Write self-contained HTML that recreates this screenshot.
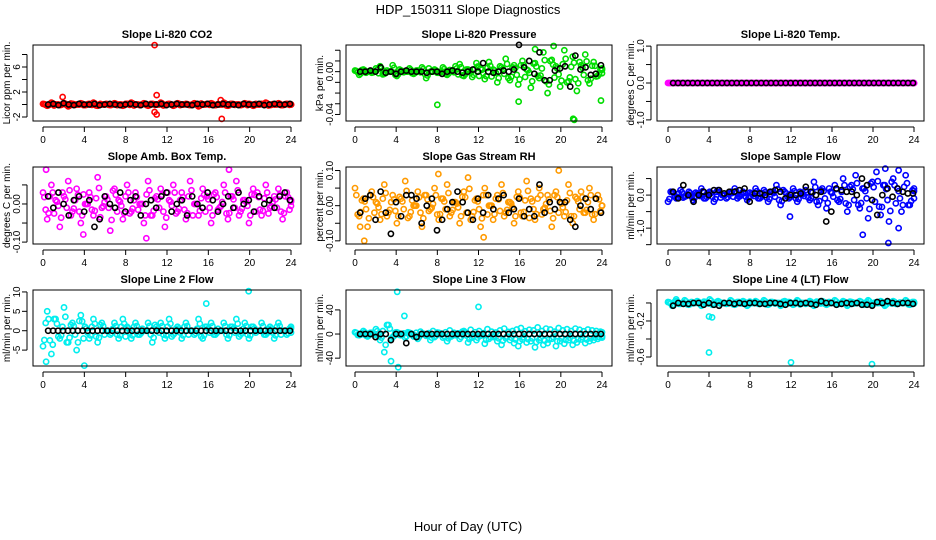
<!DOCTYPE html>
<html><head><meta charset="utf-8"><style>
html,body{margin:0;padding:0;background:#fff}
svg{display:block;font-family:"Liberation Sans",sans-serif}
</style></head><body>
<svg id="c" width="936" height="540" xmlns="http://www.w3.org/2000/svg">
<text x="468" y="14" text-anchor="middle" font-size="13">HDP_150311  Slope Diagnostics</text>
<text x="468" y="531" text-anchor="middle" font-size="13">Hour of Day (UTC)</text>
</svg>
<script>
const xTicks=[0,4,8,12,16,20,24];
const titles=["Slope Li-820 CO2","Slope Li-820 Pressure","Slope Li-820 Temp.","Slope Amb. Box Temp.","Slope Gas Stream RH","Slope Sample Flow","Slope Line 2 Flow","Slope Line 3 Flow","Slope Line 4 (LT) Flow"];
const yTitles=["Licor ppm per min.","kPa per min.","degrees C per min.","degrees C per min.","percent per min.","ml/min per min.","ml/min per min.","ml/min per min.","ml/min per min."];
const colors=["#ff0000","#00dd00","#ff00ff","#ff00ff","#ff9a00","#0000ff","#00eeee","#00eeee","#00eeee"];
const yDomains=[[-2.64,9.52],[-0.0461,0.0249],[-1.03,1.03],[-0.105,0.097],[-0.109,0.11],[-1.48,0.85],[-9.1,10.5],[-53,73],[-0.7,0.144]];
const yTickVals=[[-2,0,2,4,6,8],[-0.04,-0.03,-0.02,-0.01,0,0.01,0.02],[-1,-0.5,0,0.5,1],[-0.1,-0.05,0,0.05],[-0.1,-0.05,0,0.05,0.1],[-1.5,-1,-0.5,0,0.5],[-5,0,5,10],[-40,0,40],[-0.6,-0.4,-0.2,0]];
const yTickLabels=[["-2","","2","","6",""],["-0.04","","","","0.00","",""],["-1.0","","0.0","","1.0"],["-0.10","","0.00",""],["-0.10","","0.00","","0.10"],["","-1.0","","0.0",""],["-5","0","5","10"],["-40","0","40"],["-0.6","","-0.2",""]];
const colored=[
[0.1,-0.2,0.3,0,-0.1,0.2,-0.3,0.1,0,0.2,-0.1,0.1,0.3,-0.2,0,0.1,-0.1,0.2,0,-0.2,0.1,0.3,0,-0.1,0.2,-0.2,0.1,0,0.3,-0.1,0.1,-0.2,0.2,0,0.1,-0.1,0.2,-0.3,0,0.1,0.2,-0.1,0,0.3,-0.2,0.1,0,-0.1,0.2,0.1,-0.2,0,0.1,0.3,-0.1,0,0.2,-0.1,0.1,0],
[0.001,-0.003,0.002,0,-0.001,0.003,0.005,-0.002,0,0.006,-0.004,0.001,0,0.003,-0.002,0.001,0.004,-0.006,0,0.002,-0.001,0.004,-0.003,0.001,0.005,0.007,-0.004,0.002,-0.005,0.008,0.003,-0.007,0.009,0.002,-0.01,0.004,0.012,-0.008,0.006,-0.012,0.01,0.002,-0.015,0.008,-0.006,0.018,-0.02,0.011,0.005,-0.014,0.02,-0.009,0.014,-0.018,0.006,0.016,-0.011,0.009,-0.004,0.003],
[0,0,0,0,0,0,0,0,0,0,0,0,0,0,0,0,0,0,0,0,0,0,0,0,0,0,0,0,0,0,0,0,0,0,0,0,0,0,0,0,0,0,0,0,0,0,0,0,0,0,0,0,0,0,0,0,0,0,0,0],
[0.03,-0.04,0.05,0.01,-0.06,0.02,0.06,-0.02,0.04,-0.05,0,0.03,-0.03,0.07,-0.01,0.02,-0.07,0.04,0.01,-0.04,0.05,-0.02,0.03,0,-0.05,0.06,-0.03,0.02,0.04,-0.06,0.01,0.05,-0.02,0.03,-0.04,0.06,0,-0.03,0.04,0.02,-0.05,0.03,-0.01,0.05,-0.04,0.02,0.06,-0.02,0.01,-0.05,0.04,0.03,-0.03,0.05,-0.01,0.02,0.04,-0.04,0.03,0.01],
[0.05,-0.03,0.02,-0.06,0.04,0.01,-0.04,0.06,-0.02,0.03,-0.05,0.02,0.07,-0.03,0,0.04,-0.06,0.03,-0.01,0.05,-0.04,0.02,0.06,-0.02,0.01,-0.05,0.04,0.08,-0.03,0.02,-0.06,0.05,0,-0.04,0.03,0.06,-0.02,0.01,-0.05,0.04,-0.03,0.07,0.02,-0.04,0.05,-0.01,0.03,-0.06,0.04,0.01,-0.03,0.06,-0.05,0.02,0.04,-0.02,0.05,-0.04,0.03,0],
[-0.2,0.1,-0.1,0.15,-0.05,0.1,-0.15,0.05,0.2,-0.1,0.1,-0.2,0.15,0,-0.1,0.1,0.2,-0.05,0.1,-0.15,0.05,0.2,-0.1,0.15,-0.2,0.1,0.3,-0.3,0.1,-0.1,0.2,-0.2,0.05,0.15,-0.15,0.4,-0.3,0.2,-0.4,0.1,0.3,-0.2,0.5,-0.5,0.3,0.6,-0.4,0.2,-0.7,0.4,0.7,-0.6,0.3,-0.8,0.5,0.2,-0.5,0.6,-0.3,0.2],
[-4,5,-6,3,-2,6,-3,2,-5,4,1,-2,3,-3,2,0,-1,2,-2,3,1,-2,2,-1,0,2,-3,1,2,-2,3,-1,1,-2,2,0,-1,3,-2,1,2,-1,0,2,-2,1,3,-1,2,-2,1,0,2,-1,1,-2,2,0,-1,1],
[3,-2,5,-4,2,8,-10,-30,15,-5,3,-2,-6,2,-4,-8,1,-3,-10,-5,2,-6,-12,-4,-2,-8,5,-14,-6,-10,-3,-16,-8,-5,-12,-18,-7,-10,-15,-20,-9,-14,-12,-22,-10,-18,-15,-8,-20,-12,-16,-10,-18,-14,-9,-15,-12,-10,-8,-6],
[0.01,-0.03,0.02,-0.01,0.03,-0.02,0,0.02,-0.03,0.01,0.04,-0.02,0.02,0,-0.01,0.03,-0.02,0.01,0.02,-0.03,0,0.02,-0.01,0.03,-0.02,0.01,0,-0.03,0.02,0.01,-0.02,0.03,0,-0.01,0.02,-0.03,0.01,0.02,-0.02,0,0.03,-0.01,0.02,-0.03,0.01,0,0.02,-0.02,0.03,-0.01,0,0.02,-0.03,0.01,0.02,-0.01,0,0.03,-0.02,0.01]];
const black=[
[0,0.1,-0.1,0.2,0,-0.1,0.1,0,0,0.1,-0.1,0,0.1,0,-0.1,0,0.1,0,-0.1,0.1,0,0,0.1,-0.1,0,0.1,0,0,-0.1,0.1,0,0.1,-0.1,0,0.1,0,0,-0.1,0.1,0,0,0.1,-0.1,0,0.1,0,0,0.1],
[0,0,0.001,0,0.004,-0.001,0,-0.002,0,0.001,0,0,0,-0.001,0,0,-0.002,0,0.001,0,-0.001,0,0.002,0,0.008,0,-0.001,0,0.001,0,0.002,0.025,0.004,0.01,-0.002,0.018,-0.008,-0.008,0.001,0.003,0.005,-0.014,0.015,0.002,0.004,-0.003,-0.002,0.006],
[0,0,0,0,0,0,0,0,0,0,0,0,0,0,0,0,0,0,0,0,0,0,0,0,0,0,0,0,0,0,0,0,0,0,0,0,0,0,0,0,0,0,0,0,0,0,0,0,0,0],
[0.02,-0.01,0.03,0,-0.03,0.01,0.02,-0.02,0.01,-0.06,-0.04,0.02,0,-0.01,0.03,-0.02,0.01,0.02,-0.03,0,0.01,-0.01,0.02,0.03,-0.02,0,0.01,-0.03,0.02,0,-0.01,0.03,0.01,-0.02,0,0.02,-0.01,0.03,0,0.01,-0.02,0.02,0,0.01,-0.01,0.02,0.03,0.01],
[-0.02,0.02,0.03,-0.04,0.04,-0.02,-0.08,0.01,-0.03,0.03,0.03,0.02,-0.05,0,0.02,-0.07,-0.04,-0.01,0.01,0.04,0.01,-0.02,-0.04,0.02,-0.02,0.03,-0.01,0.02,0.03,-0.02,-0.01,0.02,-0.03,-0.01,-0.03,0.06,-0.02,0.01,-0.01,0.01,0.01,-0.04,-0.06,0,0.02,-0.01,0.02,-0.02],
[0.1,-0.1,0.3,0,-0.2,0,0.1,0,0.15,0.15,0.05,0.1,0.1,0.15,0.2,-0.2,0.05,0.05,0,0.1,0.15,0.1,-0.1,0,0,0.05,0.25,0.1,0,0.1,-0.8,-0.5,0.2,0.15,0.1,0.1,0,0.5,0.3,-0.15,-0.6,0,0.2,-0.05,0.2,0.1,0.05,0.05],
[0,0,0,0,0,0,0,0,0,0,0,0,0,0,0,0,0,0,0,0,0,0,0,0,0,0,0,0,0,0,0,0,0,0,0,0,0,0,0,0,0,0,0,0,0,0,0,0,0,0],
[0,0,0,-5,0,0,-10,0,0,-15,0,-5,0,0,0,0,0,0,0,0,0,0,0,0,0,0,0,0,0,0,0,0,0,0,0,0,0,0,0,0,0,0,0,0,0,0,0,0],
[-0.03,0,-0.01,-0.01,0,0,-0.02,0,-0.02,-0.03,0,0,-0.01,0,-0.01,0,0,-0.01,-0.01,0,0,-0.01,-0.02,0,0,-0.01,0,-0.01,-0.02,0.02,0,0,-0.02,-0.01,0,-0.01,0,-0.02,-0.02,-0.03,0.01,0,0.02,0,-0.01,0,0,-0.01]];
const outliers=[
[[10.8,9.5],[11,1.5],[1.9,1.2],[17.3,-2.3],[10.8,-1.2],[11,-1.6],[17.2,0.7]],
[[8,-0.031],[21.2,-0.044],[21.3,-0.045],[19.3,0.024],[23.9,-0.027],[15.9,-0.028],[17.5,0.021]],
[],
[[0.3,0.09],[3.9,-0.08],[18,0.09],[10,-0.09]],
[[0.5,-0.06],[0.9,-0.1],[12.5,-0.09],[19.8,0.1],[8.1,0.09]],
[[19,-1.2],[21.5,-1.45],[22.5,-1],[11.9,-0.65],[21.2,0.8],[22.5,0.75]],
[[19.9,10.2],[0.3,-8],[4,-9],[15.8,7]],
[[4.1,70],[4.2,-55],[3.5,-45],[12,45],[4.8,30]],
[[4,-0.55],[12,-0.66],[19.9,-0.68],[4,-0.15],[4.3,-0.16],[0.8,0.04]]];
const colL=[33,346,657],colR=[301,612,924],x0=[43,355,668],x24=[291,602,914];
const rowT=[45,167,290],rowB=[121,244,366];
const NS="http://www.w3.org/2000/svg";
const svg=document.getElementById('c');
function mk(t,a,p){const e=document.createElementNS(NS,t);for(const k in a)e.setAttribute(k,a[k]);(p||svg).appendChild(e);return e;}
for(let i=0;i<9;i++){
  const c=i%3,r=Math.floor(i/3);
  const L=colL[c],R=colR[c],T=rowT[r],B=rowB[r];
  const g=mk('g',{});
  
  
  const xs=h=>x0[c]+(x24[c]-x0[c])*h/24;
  const d=yDomains[i];
  const ys=v=>B-(v-d[0])/(d[1]-d[0])*(B-T);
  const t=mk('text',{x:(L+R)/2,y:T-7,'text-anchor':'middle','font-size':11,'font-weight':'bold'},g);
  t.textContent=titles[i];
  
  
  const yt=mk('text',{transform:`translate(${L-23},${(T+B)/2}) rotate(-90)`,'text-anchor':'middle','font-size':10},g);
  yt.textContent=yTitles[i];
  
  
  const xa=mk('g',{},g);
  
  
  mk('line',{x1:xs(0),x2:xs(24),y1:B+6,y2:B+6,stroke:'#000'},xa);
  xTicks.forEach(v=>{
    mk('line',{x1:xs(v),x2:xs(v),y1:B+6,y2:B+11,stroke:'#000'},xa);
    const tl=mk('text',{x:xs(v),y:B+22,'text-anchor':'middle','font-size':10},xa);
    tl.textContent=v;
    
    
  });
  const ya=mk('g',{},g);
  
  
  const tv=yTickVals[i];
  mk('line',{x1:L-6,x2:L-6,y1:ys(tv[0]),y2:ys(tv[tv.length-1]),stroke:'#000'},ya);
  tv.forEach((v,k)=>{
    mk('line',{x1:L-11,x2:L-6,y1:ys(v),y2:ys(v),stroke:'#000'},ya);
    if(yTickLabels[i][k]){
      const tl=mk('text',{transform:`translate(${L-13},${ys(v)}) rotate(-90)`,'text-anchor':'middle','font-size':10},ya);
      tl.textContent=yTickLabels[i][k];
      
      
    }
  });
  const pts=mk('g',{fill:'none','stroke-width':1.6},g);
  
  
  const cv=colored[i];
  [[0,1],[0.13,0.6],[0.26,-0.5]].forEach(([off,sc])=>{
    cv.forEach((v,k)=>{
      const h=Math.min(24,k*24/(cv.length-1)+off);
      const p=mk('circle',{cx:xs(h),cy:ys(v*sc),r:2.6,stroke:colors[i]},pts);
      
      
    });
  });
  outliers[i].forEach(o=>{
    const p=mk('circle',{cx:xs(o[0]),cy:ys(o[1]),r:2.6,stroke:colors[i]},pts);
    
    
  });
  const bv=black[i];
  bv.forEach((v,k)=>{
    const h=0.5+k*23.4/(bv.length-1);
    const p=mk('circle',{cx:xs(h),cy:ys(v),r:2.6,stroke:'#000'},pts);
    
    
  });
  const box=mk('rect',{x:L,y:T,width:R-L,height:B-T,fill:'none',stroke:'#000'},g);
  
  
}
</script>
</body></html>
